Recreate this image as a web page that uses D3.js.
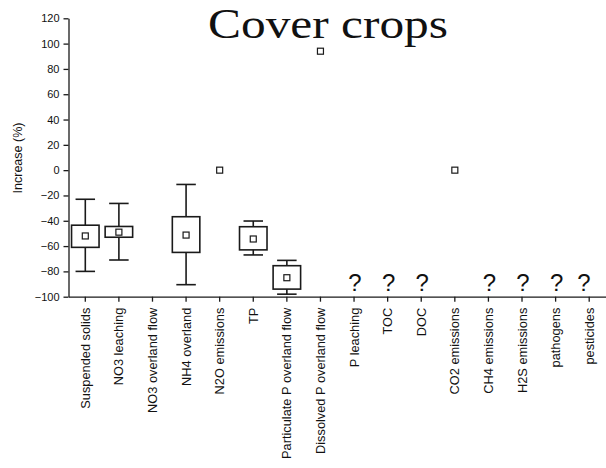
<!DOCTYPE html>
<html>
<head>
<meta charset="utf-8">
<script src="https://cdn.jsdelivr.net/npm/d3@7"></script>
<style>
  html, body { margin: 0; padding: 0; background: #fff; }
  svg { display: block; }
  text { fill: #111; }
</style>
</head>
<body>
<svg id="chart" width="606" height="468"></svg>
<script>
// Percentage change in each quantity under cover crops
const categories = [
  "Suspended solids", "NO3 leaching", "NO3 overland flow", "NH4 overland",
  "N2O emissions", "TP", "Particulate P overland flow", "Dissolved P overland flow",
  "P leaching", "TOC", "DOC", "CO2 emissions", "CH4 emissions",
  "H2S emissions", "pathogens", "pesticides"
];
const whiskerLow  = [-80, -71, null, -90.5, null, -67, -98, null, null, null, null, null, null, null, null, null];
const boxLow      = [-61, -53, null, -65, null, -63, -94, null, null, null, null, null, null, null, null, null];
const boxHigh     = [-43.5, -44.5, null, -36.8, null, -44.7, -75.5, null, null, null, null, null, null, null, null, null];
const whiskerHigh = [-23, -26.3, null, -11.3, null, -40.2, -71.3, null, null, null, null, null, null, null, null, null];
const means       = [-52, -49, null, -51.3, 0, -54.4, -85, 94, null, null, null, 0, null, null, null, null];
const unknownEffect = ["P leaching", "TOC", "DOC", "CH4 emissions", "H2S emissions", "pathogens", "pesticides"];
const yTicks = [-100, -80, -60, -40, -20, 0, 20, 40, 60, 80, 100, 120];

const svg = d3.select("#chart");
const W = 606;
const plotLeft = 68.5, plotRight = 606, plotTop = 18.3, plotBottom = 296.7;

const x = d3.scaleBand().domain(categories).range([plotLeft, plotRight]);
const y = d3.scaleLinear().domain([-100, 120]).range([plotBottom, plotTop]);
const cx = c => x(c) + x.bandwidth() / 2;

const ink = "#1a1a1a";

// Title, set a little wide
svg.append("text")
  .attr("x", 328).attr("y", 38)
  .attr("text-anchor", "middle")
  .attr("textLength", 240)
  .attr("lengthAdjust", "spacingAndGlyphs")
  .style("font-family", "'Liberation Serif', 'Times New Roman', serif")
  .style("font-size", "43px")
  .text("Cover crops");

// Y axis
const yAxis = svg.append("g")
  .attr("transform", `translate(${plotLeft},0)`)
  .call(d3.axisLeft(y).tickValues(yTicks).tickSize(5).tickSizeOuter(0).tickPadding(4));
yAxis.selectAll("path, line").attr("stroke", ink).attr("stroke-width", 1.3);
yAxis.selectAll("text")
  .style("font-family", "'Liberation Sans', Arial, sans-serif")
  .style("font-size", "11px").attr("fill", ink);

svg.append("text")
  .attr("transform", "translate(18,158) rotate(-90)")
  .attr("text-anchor", "middle")
  .attr("dy", "0.35em")
  .style("font-family", "'Liberation Sans', Arial, sans-serif")
  .style("font-size", "12.5px")
  .text("Increase (%)");

// X axis
const xAxis = svg.append("g")
  .attr("transform", `translate(0,${plotBottom})`)
  .call(d3.axisBottom(x).tickSize(5).tickSizeOuter(0).tickPadding(11));
xAxis.selectAll("path, line").attr("stroke", ink).attr("stroke-width", 1.3);
xAxis.selectAll("text")
  .style("font-family", "'Liberation Sans', Arial, sans-serif")
  .style("font-size", "12.8px").attr("fill", ink)
  .attr("text-anchor", "end")
  .attr("transform", "rotate(-90)")
  .attr("x", -11).attr("y", 0).attr("dy", "0.35em");

// Box plots
const boxW = 27.5, capW = 19.5;
const rows = categories.map((c, i) => ({
  c, lo: whiskerLow[i], q1: boxLow[i], q3: boxHigh[i], hi: whiskerHigh[i], mean: means[i]
}));
const boxes = rows.filter(d => d.q1 !== null);
const g = svg.append("g").attr("stroke", ink).attr("stroke-width", 1.6).attr("fill", "none");

g.selectAll("line.whisker").data(boxes).join("line")
  .attr("class", "whisker")
  .attr("x1", d => cx(d.c)).attr("x2", d => cx(d.c))
  .attr("y1", d => y(d.hi)).attr("y2", d => y(d.lo));
g.selectAll("line.capHi").data(boxes).join("line")
  .attr("class", "capHi")
  .attr("x1", d => cx(d.c) - capW / 2).attr("x2", d => cx(d.c) + capW / 2)
  .attr("y1", d => y(d.hi)).attr("y2", d => y(d.hi));
g.selectAll("line.capLo").data(boxes).join("line")
  .attr("class", "capLo")
  .attr("x1", d => cx(d.c) - capW / 2).attr("x2", d => cx(d.c) + capW / 2)
  .attr("y1", d => y(d.lo)).attr("y2", d => y(d.lo));
g.selectAll("rect.box").data(boxes).join("rect")
  .attr("class", "box")
  .attr("x", d => cx(d.c) - boxW / 2).attr("width", boxW)
  .attr("y", d => y(d.q3)).attr("height", d => y(d.q1) - y(d.q3))
  .attr("fill", "#fff");

// Mean markers
const ms = 6;
svg.append("g").selectAll("rect").data(rows.filter(d => d.mean !== null)).join("rect")
  .attr("x", d => cx(d.c) - ms / 2).attr("y", d => y(d.mean) - ms / 2)
  .attr("width", ms).attr("height", ms)
  .attr("fill", "#fff").attr("stroke", ink).attr("stroke-width", 1.2);

// Question marks where the effect is not known
svg.append("g").selectAll("text").data(unknownEffect).join("text")
  .attr("x", c => Math.min(cx(c) + 1, W - 22))
  .attr("y", 290.7)
  .attr("text-anchor", "middle")
  .style("font-family", "'Liberation Sans', Arial, sans-serif")
  .style("font-size", "24px")
  .text("?");
</script>
</body>
</html>
